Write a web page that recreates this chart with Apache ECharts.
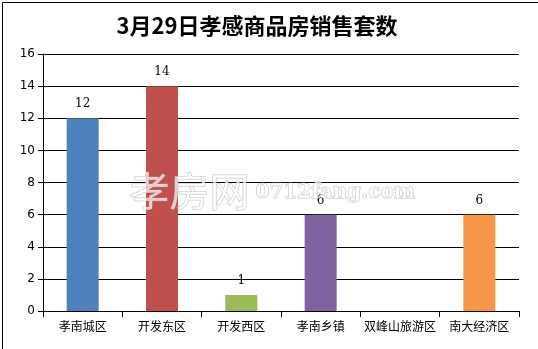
<!DOCTYPE html>
<html><head><meta charset="utf-8">
<script src="https://cdn.jsdelivr.net/npm/echarts@6/dist/echarts.min.js"></script>
<style>html,body{margin:0;padding:0;background:#fff}#c{width:538px;height:349px}</style>
</head><body><div id="c"></div>
<script>
const categories = ['孝南城区','开发东区','开发西区','孝南乡镇','双峰山旅游区','南大经济区'];
const values = [12,14,1,6,0,6];
const colors = ['#4F81BD','#C0504D','#9BBB59','#8064A2','#F79646','#F79646'];
const titleText = '3月29日孝感商品房销售套数';
const yTicks = {min:0,max:16,interval:2};

const chart = echarts.init(document.getElementById('c'));
chart.setOption({
  animation:false,
  backgroundColor:'#fff',
  title:{text:titleText,left:252,top:10,textAlign:'center',
    textStyle:{fontFamily:'Noto Sans CJK SC',fontSize:22,fontWeight:'bold',color:'#000'}},
  grid:{left:43,right:19,top:54,bottom:38,containLabel:false},
  xAxis:{type:'category',data:categories,
    axisLine:{lineStyle:{color:'#000',width:1}},
    axisTick:{show:true,alignWithLabel:false,length:6,lineStyle:{color:'#000'}},
    axisLabel:{color:'#000',fontSize:12,fontFamily:'Noto Sans CJK SC',margin:9,interval:0}},
  yAxis:{type:'value',min:yTicks.min,max:yTicks.max,interval:yTicks.interval,
    axisLine:{show:true,lineStyle:{color:'#000'}},
    axisTick:{show:true,length:5,lineStyle:{color:'#000'}},
    splitLine:{lineStyle:{color:'#000',width:1}},
    axisLabel:{color:'#000',fontSize:12,fontFamily:'DejaVu Sans',margin:8}},
  series:[{type:'bar',barWidth:32,
    data:values.map((v,i)=>({value:v,itemStyle:{color:colors[i]}})),
    label:{show:true,position:'top',color:'#000',fontSize:12,fontFamily:'DejaVu Serif',distance:8,
      formatter:p=>p.value===0?'':String(p.value)}}],
  graphic:[
    {type:'rect',left:0,top:0,shape:{x:0.5,y:0.5,width:537,height:348},
      style:{fill:'none',stroke:'#000',lineWidth:1},z:100},
    {type:'text',left:129,top:170,z:50,style:{text:'孝房网',font:'40px "Noto Sans CJK SC"',
      fill:'rgba(255,255,255,0.7)',stroke:'rgba(160,160,160,0.6)',lineWidth:1}},
    {type:'text',left:255,top:182,z:50,style:{text:'0712fang.com',font:'bold 20px "DejaVu Serif"',
      fill:'rgba(255,255,255,0.7)',stroke:'rgba(160,160,160,0.6)',lineWidth:1}}
  ]
});
</script></body></html>
